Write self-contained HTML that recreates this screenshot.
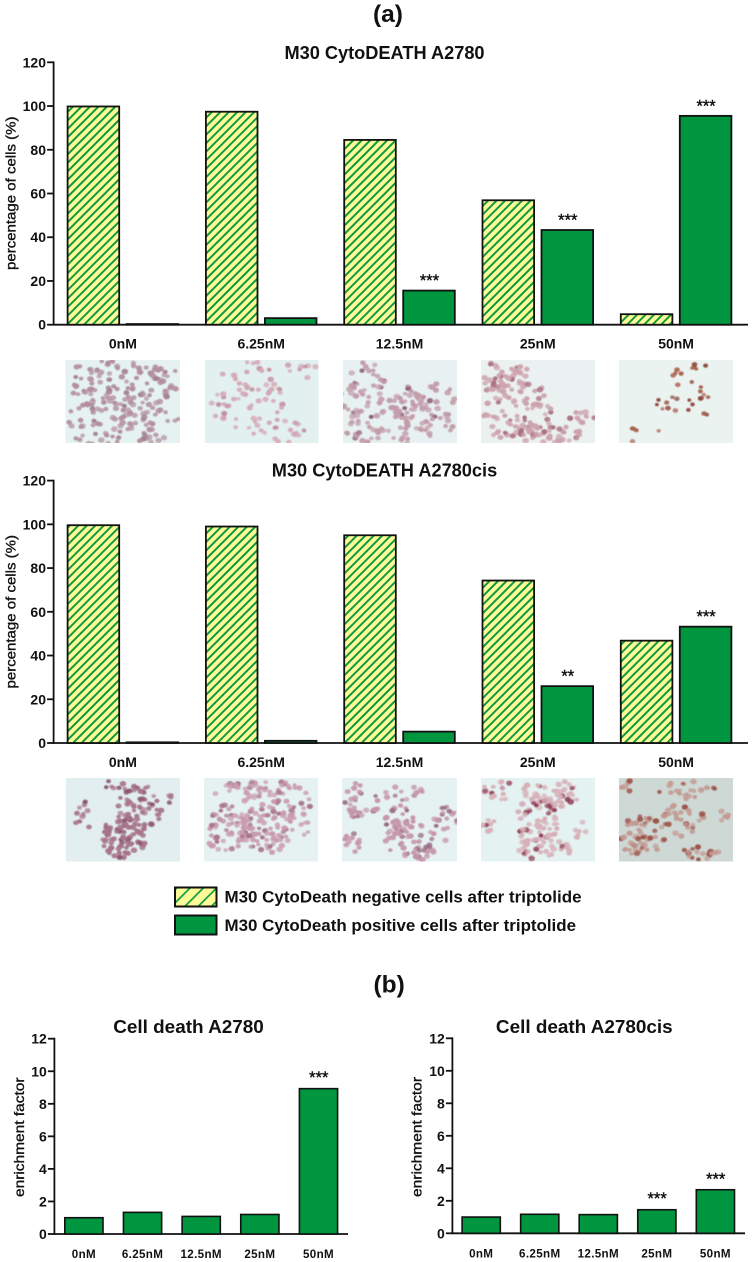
<!DOCTYPE html>
<html lang="en">
<head>
<meta charset="utf-8">
<title>M30 CytoDEATH and cell death in A2780 and A2780cis</title>
<style>
html,body{margin:0;padding:0;background:#fff;width:752px;height:1262px;overflow:hidden}
svg{display:block}
text{font-family:"Liberation Sans",Arial,sans-serif;fill:#111}
.b{font-weight:bold}
</style>
</head>
<body>
<svg id="figure" xmlns="http://www.w3.org/2000/svg" width="752" height="1262" viewBox="0 0 752 1262">
  <defs>
    <pattern id="hatch" patternUnits="userSpaceOnUse" width="6" height="6" patternTransform="rotate(45)">
      <rect width="6" height="6" fill="#fdfb98"/>
      <rect width="2" height="6" fill="#12993f"/>
    </pattern>
    <pattern id="hatch-legend" patternUnits="userSpaceOnUse" width="9.4" height="9.4" patternTransform="rotate(45)">
      <rect width="9.4" height="9.4" fill="#fdfb98"/>
      <rect width="1.7" height="9.4" fill="#0d9a42"/>
    </pattern>
    <filter id="soft" x="-5%" y="-5%" width="110%" height="110%"><feGaussianBlur stdDeviation="0.6"/></filter>
  </defs>

  <text class="b" x="373" y="22" font-size="24.5">(a)</text>
  <text class="b" x="384.5" y="59" font-size="18.2" text-anchor="middle">M30 CytoDEATH A2780</text>
  <text class="b" x="384.5" y="476.7" font-size="18.2" text-anchor="middle">M30 CytoDEATH A2780cis</text>

  <g id="chart-a1"></g>
  <g id="cells-top"></g>
  <g id="chart-a2"></g>
  <g id="cells-bottom"></g>

  <g>
    <rect x="175" y="887.5" width="41.5" height="19" fill="url(#hatch-legend)" stroke="#111" stroke-width="2"/>
    <text class="b" x="224.5" y="902.7" font-size="17" textLength="357" lengthAdjust="spacingAndGlyphs">M30 CytoDeath negative cells after triptolide</text>
    <rect x="175" y="915.5" width="41.5" height="19" fill="#009640" stroke="#111" stroke-width="2"/>
    <text class="b" x="224.5" y="931" font-size="17" textLength="351.5" lengthAdjust="spacingAndGlyphs">M30 CytoDeath positive cells after triptolide</text>
  </g>

  <text class="b" x="373.5" y="992.5" font-size="24.5">(b)</text>
  <text class="b" x="188.5" y="1033" font-size="18.9" text-anchor="middle">Cell death A2780</text>
  <text class="b" x="584.3" y="1033" font-size="18.9" text-anchor="middle">Cell death A2780cis</text>

  <g id="chart-b1"></g>
  <g id="chart-b2"></g>
</svg>

<script>
// ---- chart data -------------------------------------------------------
const categories = ['0nM', '6.25nM', '12.5nM', '25nM', '50nM'];
const percentTicks = [0, 20, 40, 60, 80, 100, 120];
const enrichmentTicks = [0, 2, 4, 6, 8, 10, 12];

const a2780Negative = [99.8, 97.4, 84.5, 56.9, 4.8];
const a2780Positive = [0.3, 3.0, 15.6, 43.3, 95.5];
const a2780Significance = ['', '', '***', '***', '***'];

const a2780cisNegative = [99.6, 99.0, 95.0, 74.3, 46.8];
const a2780cisPositive = [0.3, 1.0, 5.2, 26.0, 53.2];
const a2780cisSignificance = ['', '', '', '**', '***'];

const enrichmentA2780 = [1.0, 1.33, 1.08, 1.2, 8.93];
const enrichmentA2780Significance = ['', '', '', '', '***'];
const enrichmentA2780cis = [1.0, 1.17, 1.15, 1.45, 2.68];
const enrichmentA2780cisSignificance = ['', '', '', '***', '***'];

// ---- helpers ----------------------------------------------------------
const NS = 'http://www.w3.org/2000/svg';
function make(parent, tag, attrs, content) {
  const el = document.createElementNS(NS, tag);
  for (const k in attrs) el.setAttribute(k, attrs[k]);
  if (content !== undefined) el.textContent = content;
  parent.appendChild(el);
  return el;
}
const INK = '#111';

function drawAxes(root, o, yScale) {
  const yAxis = make(root, 'line', {x1: o.axisX, x2: o.axisX, y1: yScale(o.ticks[o.ticks.length - 1]) - 0.9, y2: o.y0 + 0.9, stroke: INK, 'stroke-width': 1.8});
  
  
  const xAxis = make(root, 'line', {x1: o.axisX, x2: o.axisEnd, y1: o.y0, y2: o.y0, stroke: INK, 'stroke-width': 1.8});
  
  
  o.ticks.forEach(function (t) {
    const tick = make(root, 'line', {x1: o.axisX - 6.5, x2: o.axisX, y1: yScale(t), y2: yScale(t), stroke: INK, 'stroke-width': 1.8});
    
    
    const label = make(root, 'text', {x: o.axisX - 7.6, y: yScale(t) + 5, 'text-anchor': 'end', 'font-size': 14, 'font-weight': 'bold'}, String(t));
    
    
  });
  const mid = (o.titleTop + o.titleBottom) / 2;
  const title = make(root, 'text', {x: 0, y: 0, 'text-anchor': 'middle', 'font-size': o.titleSize, stroke: '#111', 'stroke-width': 0.35, textLength: o.titleBottom - o.titleTop, lengthAdjust: 'spacingAndGlyphs', transform: 'translate(' + o.titleX + ',' + mid + ') rotate(-90)'}, o.title);
  
  
}

function drawSignificance(root, centerX, topY, mark, offset) {
  if (!mark) return;
  const star = make(root, 'text', {x: centerX, y: topY - offset, 'text-anchor': 'middle', 'font-size': 16.5, stroke: '#111', 'stroke-width': 0.4}, mark);
  
  
}

function drawGrouped(id, o) {
  const root = document.getElementById(id);
  const yScale = function (v) { return o.y0 - v * (o.y0 - o.yTop) / 120; };
  drawAxes(root, o, yScale);
  const groupX = function (i) { return o.x0 + i * o.step; };
  categories.forEach(function (c, i) {
    const negRect = make(root, 'rect', {x: groupX(i), y: yScale(o.neg[i]), width: o.barW, height: o.y0 - yScale(o.neg[i]), fill: 'url(#hatch)', stroke: INK, 'stroke-width': 1.8});
    
    
    const posX = groupX(i) + o.barW + o.gap;
    const posRect = make(root, 'rect', {x: posX, y: yScale(o.pos[i]), width: o.barW, height: o.y0 - yScale(o.pos[i]), fill: '#009640', stroke: INK, 'stroke-width': 1.8});
    
    
    drawSignificance(root, posX + o.barW / 2 + 0.5, yScale(o.pos[i]), o.sig[i], 4.5);
    const label = make(root, 'text', {x: groupX(i) + o.barW + o.gap / 2, y: o.y0 + 24, 'text-anchor': 'middle', 'font-size': 14, 'font-weight': 'bold'}, c);
    
    
  });
}

function drawSingle(id, o) {
  const root = document.getElementById(id);
  const yScale = function (v) { return o.y0 - v * (o.y0 - o.yTop) / 12; };
  drawAxes(root, o, yScale);
  categories.forEach(function (c, i) {
    const x = o.x0 + i * o.step;
    const bar = make(root, 'rect', {x: x, y: yScale(o.values[i]), width: o.barW, height: o.y0 - yScale(o.values[i]), fill: '#009640', stroke: INK, 'stroke-width': 1.6});
    
    
    drawSignificance(root, x + o.barW / 2 + 0.3, yScale(o.values[i]), o.sig[i], 5.5);
    const label = make(root, 'text', {x: x + o.barW / 2, y: o.y0 + 24, 'text-anchor': 'middle', 'font-size': 11.6, 'font-weight': 'bold', 'letter-spacing': 0.35}, c);
    
    
  });
}

drawGrouped('chart-a1', {neg: a2780Negative, pos: a2780Positive, sig: a2780Significance, ticks: percentTicks,
  axisX: 53.6, axisEnd: 748, y0: 324.7, yTop: 62.3, x0: 67.6, step: 138.3, barW: 51.6, gap: 7.4,
  title: 'percentage of cells (%)', titleX: 15.5, titleTop: 116.5, titleBottom: 270, titleSize: 13.5});
drawGrouped('chart-a2', {neg: a2780cisNegative, pos: a2780cisPositive, sig: a2780cisSignificance, ticks: percentTicks,
  axisX: 53.6, axisEnd: 748, y0: 743, yTop: 480.6, x0: 67.6, step: 138.3, barW: 51.6, gap: 7.4,
  title: 'percentage of cells (%)', titleX: 15.5, titleTop: 535, titleBottom: 688.5, titleSize: 13.5});
drawSingle('chart-b1', {values: enrichmentA2780, sig: enrichmentA2780Significance, ticks: enrichmentTicks,
  axisX: 54.4, axisEnd: 348, y0: 1234, yTop: 1038.7, x0: 64.8, step: 58.65, barW: 38.2,
  title: 'enrichment factor', titleX: 24, titleTop: 1077.5, titleBottom: 1197, titleSize: 13.5});
drawSingle('chart-b2', {values: enrichmentA2780cis, sig: enrichmentA2780cisSignificance, ticks: enrichmentTicks,
  axisX: 452.4, axisEnd: 745, y0: 1233.3, yTop: 1038.3, x0: 462.1, step: 58.55, barW: 38.2,
  title: 'enrichment factor', titleX: 421.5, titleTop: 1077, titleBottom: 1197, titleSize: 13.5});

// ---- micrograph textures (decorative cell photos, not chart data) ------
let seed = 12345;
function rnd() { seed = (seed * 16807) % 2147483647; return seed / 2147483647; }

function drawMicrograph(parent, name, x, y, w, h, bg, cellColor, darkColor, darkShare, radius, density, clusters) {
  const g = make(parent, 'g', {});
  
  
  const clipId = name + '-clip';
  const clip = make(g, 'clipPath', {id: clipId});
  make(clip, 'rect', {x: x, y: y, width: w, height: h});
  const inner = make(g, 'g', {'clip-path': 'url(#' + clipId + ')'});
  const bgRect = make(inner, 'rect', {x: x, y: y, width: w, height: h, fill: bg});
  
  
  const blob = make(inner, 'g', {filter: 'url(#soft)'});
  clusters.forEach(function (c) {
    const n = Math.round(c[4] * density);
    for (let i = 0; i < n; i++) {
      const a = rnd() * Math.PI * 2, d = Math.sqrt(rnd());
      const px = x + w * (c[0] + c[2] * d * Math.cos(a));
      const py = y + h * (c[1] + c[3] * d * Math.sin(a));
      const r = radius * (0.8 + rnd() * 0.4);
      const dark = rnd() < darkShare;
      const cell = make(blob, 'ellipse', {cx: px.toFixed(1), cy: py.toFixed(1), rx: r.toFixed(1), ry: (r * 0.85).toFixed(1), fill: dark ? darkColor : cellColor, opacity: (0.7 + rnd() * 0.3).toFixed(2)});
      
      
    }
  });
}

const topRow = document.getElementById('cells-top');
drawMicrograph(topRow, 'micrograph-a2780-0nM', 65.5, 360, 114.5, 83, '#e6f2f2', '#b38f9c', '#a17f8c', 0.2, 2.8, 1.6,
  [[0.5, 0.25, 0.5, 0.3, 60], [0.3, 0.75, 0.3, 0.28, 34], [0.78, 0.75, 0.22, 0.28, 22], [0.55, 0.55, 0.2, 0.15, 8]]);
drawMicrograph(topRow, 'micrograph-a2780-6.25nM', 205, 360, 113.5, 83, '#e3f0f0', '#d4a9b4', '#c4929f', 0.2, 2.7, 1.3,
  [[0.2, 0.5, 0.2, 0.35, 18], [0.5, 0.55, 0.2, 0.35, 24], [0.65, 0.85, 0.25, 0.15, 12], [0.45, 0.1, 0.2, 0.1, 6], [0.85, 0.15, 0.15, 0.15, 6]]);
drawMicrograph(topRow, 'micrograph-a2780-12.5nM', 343, 360, 114, 83, '#e8f1f1', '#c29ca9', '#8f5f78', 0.14, 2.8, 1.5,
  [[0.18, 0.4, 0.2, 0.45, 34], [0.18, 0.85, 0.18, 0.15, 12], [0.62, 0.55, 0.22, 0.25, 40], [0.85, 0.6, 0.15, 0.35, 14], [0.6, 0.9, 0.25, 0.1, 10]]);
drawMicrograph(topRow, 'micrograph-a2780-25nM', 481, 360, 114, 83, '#ebf1f0', '#cda3ad', '#a9707f', 0.22, 2.8, 1.5,
  [[0.22, 0.2, 0.22, 0.2, 28], [0.15, 0.6, 0.15, 0.35, 20], [0.45, 0.55, 0.18, 0.3, 24], [0.55, 0.88, 0.35, 0.12, 36], [0.88, 0.72, 0.12, 0.1, 7]]);
drawMicrograph(topRow, 'micrograph-a2780-50nM', 619, 360, 114, 83, '#ebf3f1', '#a8624f', '#8f4a3f', 0.3, 2.4, 1.2,
  [[0.55, 0.2, 0.1, 0.15, 5], [0.7, 0.08, 0.08, 0.06, 4], [0.35, 0.5, 0.15, 0.1, 4], [0.55, 0.55, 0.15, 0.1, 5], [0.75, 0.4, 0.1, 0.08, 5], [0.12, 0.9, 0.05, 0.08, 3], [0.35, 0.88, 0.03, 0.05, 1], [0.78, 0.62, 0.06, 0.05, 2]]);

const bottomRow = document.getElementById('cells-bottom');
drawMicrograph(bottomRow, 'micrograph-a2780cis-0nM', 66, 778, 114, 83.5, '#e2eeef', '#a87488', '#8c5370', 0.3, 2.7, 1.4,
  [[0.5, 0.72, 0.2, 0.25, 56], [0.65, 0.35, 0.22, 0.3, 44], [0.15, 0.45, 0.08, 0.18, 8], [0.9, 0.25, 0.05, 0.1, 3], [0.45, 0.08, 0.12, 0.06, 5]]);
drawMicrograph(bottomRow, 'micrograph-a2780cis-6.25nM', 204, 778, 114, 83.5, '#e6f2f2', '#c99cac', '#a97489', 0.25, 2.7, 1.5,
  [[0.2, 0.6, 0.2, 0.3, 36], [0.55, 0.5, 0.25, 0.4, 70], [0.55, 0.1, 0.3, 0.1, 18], [0.85, 0.4, 0.12, 0.3, 12], [0.2, 0.15, 0.12, 0.1, 4]]);
drawMicrograph(bottomRow, 'micrograph-a2780cis-12.5nM', 342, 778, 115, 83.5, '#e6f2f2', '#c697a8', '#9a6a82', 0.2, 2.7, 1.5,
  [[0.12, 0.3, 0.1, 0.25, 16], [0.1, 0.75, 0.08, 0.15, 8], [0.45, 0.4, 0.2, 0.3, 30], [0.6, 0.75, 0.25, 0.2, 22], [0.9, 0.5, 0.1, 0.25, 12], [0.72, 0.9, 0.1, 0.1, 12], [0.65, 0.15, 0.05, 0.1, 5]]);
drawMicrograph(bottomRow, 'micrograph-a2780cis-25nM', 481, 778, 114, 83.5, '#e4f2f1', '#d8b0b8', '#8f3f58', 0.18, 2.8, 1.5,
  [[0.5, 0.5, 0.2, 0.3, 42], [0.65, 0.2, 0.2, 0.2, 24], [0.25, 0.15, 0.25, 0.12, 14], [0.55, 0.85, 0.25, 0.13, 24], [0.08, 0.55, 0.08, 0.12, 5], [0.85, 0.6, 0.08, 0.12, 4]]);
drawMicrograph(bottomRow, 'micrograph-a2780cis-50nM', 619, 778, 114, 83.5, '#ced9d6', '#c29a92', '#9c5348', 0.3, 2.8, 1.5,
  [[0.2, 0.7, 0.2, 0.25, 34], [0.55, 0.5, 0.2, 0.2, 20], [0.6, 0.15, 0.25, 0.12, 14], [0.72, 0.9, 0.18, 0.08, 12], [0.07, 0.1, 0.05, 0.1, 4], [0.92, 0.45, 0.05, 0.08, 3]]);
</script>
</body>
</html>
